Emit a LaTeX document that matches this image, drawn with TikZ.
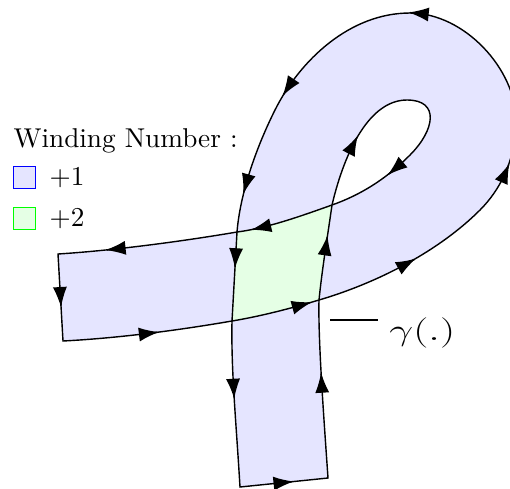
\documentclass[tikz,border=0pt]{standalone}
\usetikzlibrary{positioning, arrows.meta}

\begin{document}
\begin{tikzpicture}[x=0.02cm,y=-0.02cm,curve/.style={line width=0.8pt,draw=black},tip/.style={sloped,allow upside down,pos=0.5,inner sep=0pt,node contents={\tikz\draw[line width=0.8pt,-{Latex[length=11.5pt,width=8pt]}] (0,0) -- (1pt,0);}},keybox/.style={line width=0.7pt,minimum size=0.44cm,inner sep=0pt},legend/.style={inner sep=0pt,scale=1.55}]
\useasboundingbox (0,0) rectangle (510,488);
% corners of the ribbon and its crossings
\coordinate (A) at (240,487);\coordinate (B) at (328,478);\coordinate (C) at (319,300);\coordinate (D) at (332,205);
\coordinate (G) at (237,232);\coordinate (H) at (58,254);\coordinate (I) at (63,341);\coordinate (J) at (232,321);
% region crossed twice
\fill[green!10] (G) .. controls (268,228) and (301,216) .. (D) .. controls (327,240) and (322,270) .. (C) .. controls (292,308) and (262,316) .. (J) -- cycle;
% the curve gamma
\draw[curve, fill=blue!10, even odd rule] (A) -- (B) node[tip]
 .. controls (324,420) and (318,340) .. (C) node[tip]
 .. controls (322,270) and (327,240) .. (D) node[tip, pos=0.6]
 .. controls (345,150) and (370,100) .. (407,100) node[tip, pos=0.4]
 .. controls (440,100) and (435,130) .. (410,155)
 .. controls (385,180) and (360,195) .. (D) node[tip, pos=0.2]
 .. controls (301,216) and (268,228) .. (G) node[tip, pos=0.75]
 .. controls (190,240) and (120,250) .. (H) node[tip, pos=0.7]
 -- (I) node[tip]
 .. controls (120,338) and (180,330) .. (J) node[tip]
 .. controls (262,316) and (292,308) .. (C) node[tip, pos=0.8]
 .. controls (380,282) and (440,250) .. (480,210) node[tip]
 .. controls (500,190) and (516,160) .. (516,120) node[tip]
 .. controls (516,70) and (465,13) .. (410,13) node[tip, pos=0.95]
 .. controls (350,13) and (300,60) .. (275,110) node[tip, pos=0.85]
 .. controls (255,150) and (240,195) .. (G) node[tip, pos=0.6]
 -- (J) node[tip, pos=0.3]
 .. controls (231,370) and (236,420) .. (A) node[tip, pos=0.45]
 -- cycle;
% label of the curve
\coordinate (gfrom) at (330,320);\coordinate (gto) at (378,320);
\draw[line width=0.6pt] (gfrom) -- (gto);
\node[anchor=base west, inner sep=0pt, font=\fontsize{16}{19}\selectfont, xscale=1.4] (gname) at (389,340) {$\gamma(.)$};
% legend
\node[legend, anchor=base west] (legtitle) at (13,147) {Winding Number :};
\node[keybox, draw=blue, fill=blue!10] (key1) at (24.5,177.5) {};
\node[keybox, draw=green, fill=green!10, below=0.36cm of key1] (key2) {};
\node[legend, right=0.26cm of key1] (plus1) {$+1$};
\node[legend, right=0.26cm of key2] (plus2) {$+2$};
\end{tikzpicture}
\end{document}
